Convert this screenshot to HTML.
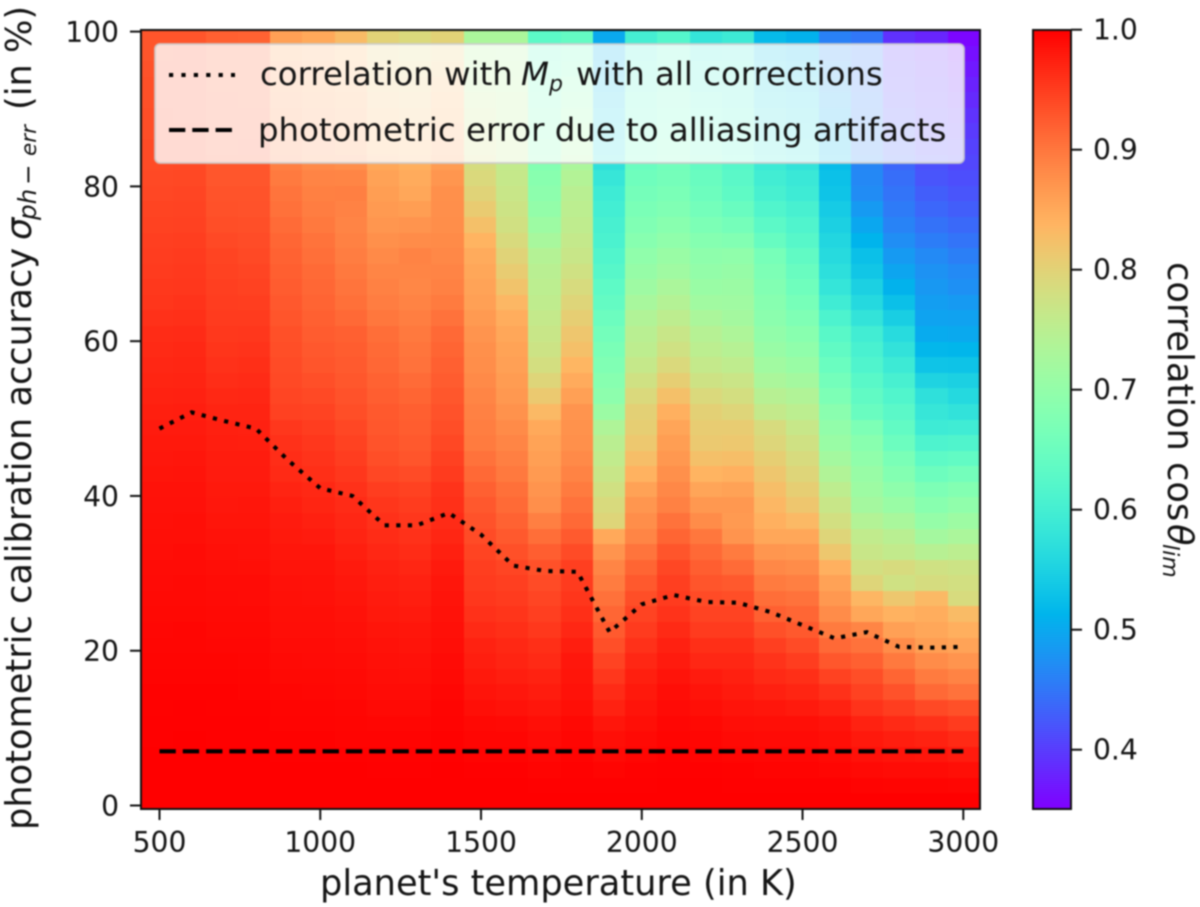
<!DOCTYPE html>
<html>
<head>
<meta charset="utf-8">
<style>
html,body{margin:0;padding:0;background:#fff;}
svg{display:block;filter:blur(0.7px);font-family:"DejaVu Sans","Liberation Sans",sans-serif;fill:#111;}
text{fill:#151515;}
</style>
</head>
<body>
<svg id="chart" xmlns="http://www.w3.org/2000/svg" width="1200" height="907" viewBox="0 0 1200 907">
  <rect x="141" y="30" width="839" height="779" fill="#ff0000"/>
  <g id="cells" shape-rendering="crispEdges"></g>
  <g id="lines"></g>
  <rect x="141" y="30" width="839" height="779" fill="none" stroke="#111" stroke-width="2"/>
  <g id="xticks"></g>
  <g id="yticks"></g>

  <g>
    <rect x="155" y="44" width="809" height="119" rx="5" ry="5" fill="#fff" fill-opacity="0.8" stroke="#ccc" stroke-opacity="0.8" stroke-width="2"/>
    <line x1="169" y1="75" x2="235" y2="75" stroke="#000" stroke-width="4.1" stroke-dasharray="4.2 8.2"/>
    <line x1="169" y1="130" x2="233" y2="130" stroke="#000" stroke-width="4.1" stroke-dasharray="16.3 7"/>
    <text x="260" y="85" font-size="32.4">correlation with<tspan x="521" font-style="italic">M</tspan><tspan dy="6" font-size="22" font-style="italic">p</tspan><tspan x="576" dy="-6">with all corrections</tspan></text>
    <text x="258" y="141" font-size="32.4">photometric error due to alliasing artifacts</text>
  </g>

  <text x="320" y="895" font-size="35.2">planet's temperature (in K)</text>
  <text transform="translate(31,830) rotate(-90)" font-size="35.2">photometric calibration accuracy<tspan x="590" font-style="italic">σ</tspan><tspan x="610" dy="5" font-size="24.6" font-style="italic">ph</tspan><tspan x="645" font-size="24.6">−</tspan><tspan x="674" font-size="21.5" font-style="italic">err</tspan><tspan x="720" dy="-5">(in %)</tspan></text>

  <g id="cbar" shape-rendering="crispEdges"></g>
  <rect x="1033" y="30" width="38" height="779" fill="none" stroke="#111" stroke-width="2"/>
  <g id="cticks"></g>
  <text transform="translate(1168,262) rotate(90)" font-size="35.2">correlation cos<tspan x="262" font-style="italic">θ</tspan><tspan x="282" dy="5" font-size="22" font-style="italic">lim</tspan></text>
</svg>
<script>
const columnTemps = [500,600,700,800,900,1000,1100,1200,1300,1400,1500,1600,1700,1800,1900,2000,2100,2200,2300,2400,2500,2600,2700,2800,2900,3000];
const rowSigmas = [99,97,95,93,91,89,87,85,83,81,79,77,75,73,71,69,67,65,63,61,59,57,55,53,51,49,47,45,43,41,39,37,35,33,31,29,27,25,23,21,19,17,15,13,11,9,7,5,3,1];

// cos(theta_lim) x 1000, one array per temperature column, rows listed from top (sigma 99) to bottom (sigma 1)
const corr500 = [930,930,932,934,934,936,936,938,938,940,942,944,946,948,950,952,954,956,960,964,966,968,970,972,975,978,980,981,983,985,986,987,988,989,990,991,992,993,994,995,996,997,998,998,999,999,1000,1000,1000,1000];
const corr600 = [930,931,933,933,935,935,937,939,939,941,943,945,947,949,952,953,955,958,961,965,967,969,971,973,976,978,980,982,984,985,986,988,988,990,990,992,992,993,995,995,996,997,998,999,999,1000,1000,1000,1000,1000];
const corr700 = [920,920,921,922,923,924,925,926,928,929,931,933,936,940,944,946,948,950,952,954,957,960,963,967,971,974,976,977,978,980,981,983,985,987,989,990,991,992,993,994,996,997,998,998,999,999,1000,1000,1000,1000];
const corr800 = [918,920,920,922,922,924,925,927,928,929,931,932,935,937,940,943,946,949,952,955,958,962,965,968,971,973,975,977,978,980,982,983,985,986,988,990,990,992,993,994,995,996,997,998,999,999,1000,1000,1000,1000];
const corr900 = [860,862,868,872,876,880,884,888,892,897,902,905,910,915,918,921,924,927,930,934,936,938,940,943,947,955,960,963,966,971,975,978,980,982,984,986,987,988,989,990,992,993,995,996,997,998,999,1000,1000,1000];
const corr1000 = [850,853,858,862,866,870,874,878,882,887,891,894,898,903,907,911,914,917,920,924,927,930,935,940,945,950,955,958,962,967,970,974,978,982,984,985,986,988,989,990,991,993,994,996,997,998,999,1000,1000,1000];
const corr1100 = [830,836,842,848,854,860,866,872,878,886,892,889,887,890,894,898,902,906,912,920,923,925,928,932,936,942,946,950,955,960,965,968,971,975,979,981,983,985,987,989,990,992,993,995,996,997,999,1000,1000,1000];
const corr1200 = [800,805,812,820,826,832,838,846,852,858,862,866,870,876,882,886,890,894,900,908,911,914,918,922,926,928,931,936,942,950,956,960,964,968,973,976,978,980,983,985,987,989,990,992,995,997,998,999,1000,1000];
const corr1300 = [790,796,804,812,818,826,832,838,844,848,852,862,872,880,888,886,885,888,893,898,901,904,910,916,921,923,926,930,938,946,951,955,960,964,969,973,976,979,982,984,986,988,990,992,995,997,998,999,1000,1000];
const corr1400 = [800,808,820,830,838,846,852,858,864,870,876,877,878,881,884,887,890,896,904,912,916,920,924,928,932,936,941,947,952,958,961,965,969,974,979,982,984,985,987,989,991,992,994,996,997,998,999,1000,1000,1000];
const corr1500 = [730,735,742,750,758,766,772,778,784,790,798,810,824,838,848,852,856,860,866,872,876,878,882,886,890,893,896,904,912,920,927,932,938,944,949,952,955,960,966,972,976,980,984,988,993,995,997,999,1000,1000];
const corr1600 = [730,734,738,742,746,750,754,758,760,763,767,772,778,788,798,808,820,834,846,852,857,860,864,868,874,881,886,892,898,906,911,918,926,934,943,948,952,957,962,967,971,976,981,985,992,995,997,999,1000,1000];
const corr1700 = [630,636,642,650,656,662,668,674,680,686,692,700,712,726,742,748,752,756,762,768,772,782,796,812,832,850,857,861,866,872,877,892,908,922,933,938,943,948,954,962,966,972,977,982,988,991,994,997,999,1000];
const corr1800 = [640,650,662,675,685,697,708,720,730,740,748,752,756,762,768,776,786,796,806,816,824,836,848,860,872,874,876,882,888,896,904,912,925,938,948,952,956,962,968,976,981,983,985,988,993,995,997,998,999,1000];
const corr1900 = [500,510,520,528,538,546,556,564,572,582,592,598,604,608,616,624,632,640,650,660,668,676,684,692,710,735,750,758,768,778,788,795,850,872,886,895,905,915,925,935,945,955,965,972,982,988,992,996,999,1000];
const corr2000 = [600,606,612,618,624,630,636,642,648,654,662,668,676,684,696,704,714,726,738,748,754,764,776,790,802,806,814,826,840,858,870,878,886,902,916,926,936,945,952,960,968,975,980,984,988,992,995,998,999,1000];
const corr2100 = [620,626,630,636,640,644,648,654,658,662,668,676,686,696,708,716,730,742,754,768,776,790,806,824,842,854,862,868,876,884,890,904,916,930,942,948,952,958,966,973,978,984,989,991,994,996,998,999,1000,1000];
const corr2200 = [580,590,600,606,614,622,628,634,640,646,652,660,670,682,694,700,708,718,730,744,752,762,774,790,802,808,812,824,838,854,868,880,900,912,922,930,938,945,952,962,968,978,984,988,993,995,997,999,1000,1000];
const corr2300 = [590,594,598,602,606,610,614,618,622,628,634,646,662,678,696,704,710,716,722,734,744,756,770,782,796,808,814,826,842,858,868,866,872,896,910,926,936,945,952,962,968,974,979,984,989,992,995,998,999,1000];
const corr2400 = [520,530,540,548,556,566,574,582,590,596,604,616,630,644,664,672,678,684,690,698,706,718,730,746,762,786,794,806,816,826,834,842,852,870,884,896,908,920,934,948,958,966,974,982,988,991,994,997,999,1000];
const corr2500 = [510,518,528,538,546,554,562,570,578,586,592,604,614,624,636,646,654,664,674,686,696,708,722,738,752,766,776,786,796,806,816,832,852,868,880,892,904,915,926,938,950,962,970,979,988,991,994,997,999,1000];
const corr2600 = [460,468,478,486,494,502,510,516,522,528,532,540,548,556,562,570,580,594,610,626,636,648,660,672,688,698,708,722,738,754,768,780,796,815,842,858,868,880,896,912,928,946,960,972,984,988,992,995,999,1000];
const corr2700 = [450,450,452,454,456,458,460,462,464,466,470,484,498,512,526,534,548,560,578,596,606,614,626,636,646,672,686,696,706,712,722,740,758,768,780,795,835,852,886,904,920,936,946,958,972,980,986,992,997,1000];
const corr2800 = [390,395,400,405,410,418,424,430,436,442,448,454,462,472,484,496,510,526,544,564,576,590,604,616,628,638,650,668,680,694,708,728,748,760,786,776,815,840,860,880,898,916,932,950,966,976,984,990,996,1000];
const corr2900 = [380,385,390,394,398,402,406,410,416,420,428,436,446,456,468,476,482,488,494,502,516,532,552,572,582,592,612,632,652,672,686,702,722,746,776,784,832,846,852,862,880,896,912,940,960,972,982,990,996,1000];
const corr3000 = [355,362,370,378,384,392,398,404,408,414,420,428,438,448,458,468,474,484,492,500,514,530,548,560,576,594,615,638,660,680,696,712,730,752,772,780,786,830,844,856,872,888,904,934,952,966,978,988,995,1000];
const corrColumns = [corr500,corr600,corr700,corr800,corr900,corr1000,corr1100,corr1200,corr1300,corr1400,corr1500,corr1600,corr1700,corr1800,corr1900,corr2000,corr2100,corr2200,corr2300,corr2400,corr2500,corr2600,corr2700,corr2800,corr2900,corr3000];

const limitTemps = [500,600,700,800,900,1000,1100,1200,1300,1400,1500,1600,1700,1800,1900,2000,2100,2200,2300,2400,2500,2600,2700,2800,2900,3000];
const limitSigma = [48.7,50.8,49.7,48.7,44.6,41,40,36.2,36.2,37.8,35,31,30.3,30.2,22.4,26,27.2,26.3,26.2,25,23.3,21.6,22.4,20.5,20.4,20.5];
const errorTemps = [500,3000];
const errorSigma = [7,7];

const xTickValues = [500,1000,1500,2000,2500,3000];
const yTickValues = [0,20,40,60,80,100];
const cbarTickValues = [0.4,0.5,0.6,0.7,0.8,0.9,1.0];
const cbarTickLabels = ['0.4','0.5','0.6','0.7','0.8','0.9','1.0'];

const NS = 'http://www.w3.org/2000/svg';
const plot = {left:141, right:980, top:30, bottom:809};
const cbarBox = {left:1033, right:1071, top:30, bottom:809};
const vMin = 0.35, vMax = 1.0;

function xScale(t){ return 159.5 + (t-500)*(963.3-159.5)/2500; }
function yScale(s){ return 805.5 - s*(805.5-31.6)/100; }
function cScale(v){ return 29.7 + (vMax-v)*1200; }
function rainbow(v){
  const x = Math.max(0,Math.min(1,(v-vMin)/(vMax-vMin)));
  const r = Math.min(1,Math.abs(2*x-0.5));
  const g = Math.sin(Math.PI*x);
  const b = Math.cos(Math.PI*x/2);
  return 'rgb('+Math.round(r*255)+','+Math.round(g*255)+','+Math.round(b*255)+')';
}
function mk(tag,attrs,parent){
  const el = document.createElementNS(NS,tag);
  for(const k in attrs){ el.setAttribute(k,attrs[k]); }
  parent.appendChild(el);
  return el;
}

const cellsG = document.getElementById('cells');
const colW = (plot.right-plot.left)/columnTemps.length;
const rowH = (plot.bottom-plot.top)/rowSigmas.length;
columnTemps.forEach(function(t,ci){
  rowSigmas.forEach(function(s,ri){
    const value = corrColumns[ci][ri]/1000;
    const x0 = Math.round(plot.left+ci*colW), x1 = Math.round(plot.left+(ci+1)*colW);
    const y0 = Math.round(plot.top+ri*rowH), y1 = Math.round(plot.top+(ri+1)*rowH);
    const cell = mk('rect',{x:x0,y:y0,width:x1-x0,height:y1-y0,fill:rainbow(value)},cellsG);
    
    
  });
});

const linesG = document.getElementById('lines');
const limitLine = mk('polyline',{points:limitTemps.map(function(t,i){return xScale(t)+','+yScale(limitSigma[i]);}).join(' '),fill:'none',stroke:'#000','stroke-width':4.1,'stroke-dasharray':'4.2 7.4'},linesG);


const errorLine = mk('polyline',{points:errorTemps.map(function(t,i){return xScale(t)+','+yScale(errorSigma[i]);}).join(' '),fill:'none',stroke:'#000','stroke-width':4.1,'stroke-dasharray':'16.3 7'},linesG);



const xG = document.getElementById('xticks');
xTickValues.forEach(function(t){
  const px = xScale(t);
  const tick = mk('line',{x1:px,x2:px,y1:plot.bottom,y2:plot.bottom+11,stroke:'#111','stroke-width':2},xG);
  
  
  const lab = mk('text',{x:px,y:852,'font-size':28.2,'text-anchor':'middle'},xG);
  
  
  lab.textContent = String(t);
});

const yG = document.getElementById('yticks');
yTickValues.forEach(function(s){
  const py = yScale(s);
  const tick = mk('line',{x1:plot.left-11,x2:plot.left,y1:py,y2:py,stroke:'#111','stroke-width':2},yG);
  
  
  const lab = mk('text',{x:119,y:py+10.5,'font-size':28.2,'text-anchor':'end'},yG);
  
  
  lab.textContent = String(s);
});

const cbarG = document.getElementById('cbar');
for(let py=cbarBox.top; py<cbarBox.bottom; py+=2){
  const v = vMax-(py+1-cbarBox.top)/(cbarBox.bottom-cbarBox.top)*(vMax-vMin);
  const step = mk('rect',{x:cbarBox.left,y:py,width:cbarBox.right-cbarBox.left,height:2,fill:rainbow(v)},cbarG);
  
  
}
const cG = document.getElementById('cticks');
cbarTickValues.forEach(function(v,i){
  const py = cScale(v);
  const tick = mk('line',{x1:cbarBox.right,x2:cbarBox.right+11,y1:py,y2:py,stroke:'#111','stroke-width':2},cG);
  
  
  const lab = mk('text',{x:1093,y:py+10,'font-size':28.2},cG);
  
  
  lab.textContent = cbarTickLabels[i];
});
</script>
</body>
</html>
